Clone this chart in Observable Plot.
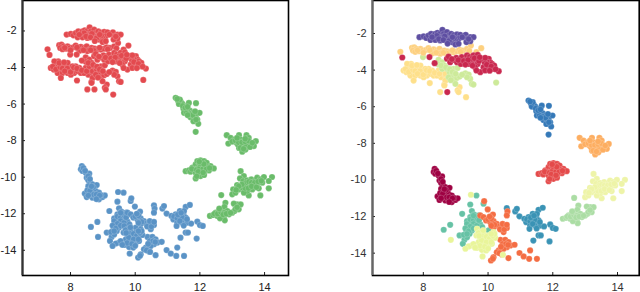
<!DOCTYPE html>
<html><head><meta charset="utf-8">
<script src="https://cdn.jsdelivr.net/npm/d3@7"></script>
<script src="https://cdn.jsdelivr.net/npm/@observablehq/plot@0.6"></script>
<style>
html,body{margin:0;padding:0;background:#fff}
#c{display:flex;width:640px;height:292px}
svg{display:block;overflow:visible}
</style></head><body><div id="c"></div>
<script>
const purple=[[7.88,-2.2],[8.01,-2.16],[8.09,-2.24],[8.16,-2.11],[8.24,-2.02],[8.32,-2.13],[8.22,-2.35],[8.37,-2.02],[8.44,-1.96],[8.52,-2.0],[8.59,-1.8],[8.63,-2.02],[8.73,-1.93],[8.78,-2.11],[8.86,-2.02],[8.94,-2.09],[9.04,-2.05],[9.14,-2.07],[9.31,-2.07],[9.45,-2.2],[9.55,-2.2],[9.35,-2.29],[9.45,-2.42],[9.33,-2.47],[9.09,-2.29],[8.99,-2.38],[8.88,-2.47],[8.99,-2.6],[9.09,-2.56],[8.83,-2.29],[8.71,-2.29],[8.58,-2.2],[8.47,-2.2],[8.37,-2.35],[8.52,-2.38],[8.66,-2.15],[8.95,-2.25],[8.42,-2.12],[8.27,-2.2],[8.48,-2.3],[8.62,-2.35],[8.8,-2.4],[8.9,-2.2],[9.2,-2.2],[9.4,-2.3],[8.75,-2.55]];
const peach=[[7.29,-3.0],[7.65,-2.78],[7.72,-2.75],[7.78,-2.84],[7.68,-2.93],[7.86,-2.97],[7.91,-2.84],[7.99,-2.93],[8.09,-2.89],[8.16,-2.8],[8.24,-2.97],[8.32,-2.87],[8.42,-2.93],[8.5,-2.84],[8.58,-3.02],[8.65,-2.93],[8.75,-2.97],[8.83,-3.02],[8.94,-3.02],[9.04,-2.97],[9.12,-2.89],[9.22,-2.93],[9.35,-2.84],[9.47,-2.66],[9.79,-2.8],[9.64,-3.02],[8.28,-3.08],[8.52,-3.1],[8.72,-3.08],[7.75,-3.0],[8.0,-3.05],[8.2,-2.9],[8.4,-3.05],[8.62,-3.05],[8.9,-2.92],[9.15,-3.0],[9.42,-2.95],[7.82,-2.92]];
const crimson=[[7.35,-3.31],[8.19,-3.29],[8.35,-3.62],[8.74,-5.2],[8.73,-3.38],[8.83,-3.57],[8.78,-3.26],[8.94,-3.44],[9.02,-3.33],[9.12,-3.51],[9.19,-3.29],[9.3,-3.44],[9.35,-3.2],[9.43,-3.29],[9.5,-3.57],[9.55,-3.2],[9.68,-3.17],[9.64,-3.44],[9.68,-3.66],[9.6,-3.84],[9.76,-4.11],[9.86,-3.84],[10.02,-3.38],[10.07,-3.57],[9.97,-3.57],[10.12,-3.66],[10.02,-3.84],[10.19,-3.75],[10.15,-3.93],[10.33,-4.06],[9.89,-3.57],[9.81,-3.38],[9.24,-3.62],[9.4,-3.66],[9.04,-3.57],[9.16,-3.66],[9.91,-4.02],[9.64,-4.02],[9.5,-3.38],[9.91,-3.33],[8.88,-3.4],[9.08,-3.45],[9.25,-3.5],[9.38,-3.45],[9.58,-3.35],[9.72,-3.5],[9.96,-3.7],[10.1,-3.8],[10.23,-3.95],[9.52,-3.75],[9.3,-3.7],[9.74,-3.3],[10.05,-4.03]];
const sand=[[7.62,-3.66],[7.53,-3.84],[7.39,-4.02],[7.48,-4.11],[7.6,-3.99],[7.7,-4.11],[7.6,-4.3],[7.7,-3.84],[7.8,-3.93],[7.86,-4.11],[7.75,-4.3],[7.91,-4.3],[7.96,-4.02],[8.06,-4.11],[8.11,-4.3],[8.01,-4.39],[8.22,-4.2],[8.27,-4.02],[8.16,-3.93],[8.32,-4.3],[7.7,-4.57],[8.2,-4.71],[8.47,-4.02],[8.58,-4.11],[8.55,-4.39],[8.68,-4.3],[8.71,-4.53],[8.65,-4.79],[8.42,-4.3],[7.5,-3.66],[7.91,-3.75],[8.06,-3.93],[8.52,-5.2],[9.12,-4.93],[9.06,-5.11],[9.32,-5.48],[9.09,-5.2],[8.68,-4.2],[8.68,-4.57],[8.65,-4.84],[7.45,-3.95],[7.55,-4.1],[7.68,-3.98],[7.75,-4.05],[7.9,-4.05],[7.82,-4.2],[8.0,-4.25],[8.1,-4.0],[8.2,-4.05],[8.35,-4.15],[8.5,-4.2],[7.65,-3.75],[7.8,-3.72]];
const lime=[[7.99,-3.29],[8.47,-3.44],[8.58,-3.57],[8.47,-3.69],[8.65,-3.75],[8.73,-3.93],[8.58,-3.93],[8.81,-4.11],[8.94,-3.93],[9.06,-3.88],[8.88,-4.3],[8.78,-4.39],[8.94,-4.53],[9.04,-4.42],[8.99,-4.75],[9.3,-4.17],[9.4,-4.24],[9.45,-4.48],[9.5,-4.75],[9.55,-4.79],[10.25,-4.68],[9.12,-4.35],[9.35,-4.39],[8.55,-3.75],[8.7,-3.85],[8.82,-3.95],[8.9,-4.1],[9.0,-4.2],[9.2,-4.25],[8.85,-4.55]];
const blue=[[11.25,-5.66],[11.32,-5.81],[11.41,-5.88],[11.46,-5.99],[11.35,-5.99],[11.56,-6.12],[11.66,-5.94],[11.88,-5.95],[11.61,-6.3],[11.49,-6.25],[11.51,-6.48],[11.69,-6.36],[11.77,-6.48],[11.71,-6.72],[11.87,-6.66],[11.99,-6.48],[11.82,-6.79],[11.92,-6.85],[11.95,-7.08],[11.87,-7.52],[11.8,-6.94],[11.59,-6.48],[11.38,-5.75],[11.3,-5.72],[11.47,-6.1],[11.55,-6.2],[11.62,-6.15],[11.7,-6.55],[11.78,-6.6],[11.85,-6.4],[11.62,-6.6],[11.88,-6.85]];
const apricot=[[12.83,-7.7],[12.95,-7.85],[12.88,-8.16],[13.07,-7.94],[13.21,-7.7],[13.44,-7.7],[13.13,-8.12],[13.26,-7.94],[13.36,-8.03],[13.51,-7.85],[13.73,-8.03],[13.67,-8.3],[13.57,-8.21],[13.21,-8.4],[13.31,-8.61],[13.41,-8.49],[13.46,-8.3],[13.51,-8.12],[13.31,-8.3],[13.41,-8.21],[13.18,-8.22],[13.0,-8.05],[13.1,-8.0],[13.2,-8.1],[13.3,-8.1],[13.4,-8.05],[13.15,-7.85],[13.5,-8.0],[13.25,-8.4],[13.35,-8.45],[13.55,-8.35],[13.4,-7.9],[13.62,-8.12]];
const red=[[11.56,-9.67],[11.66,-9.63],[11.77,-9.48],[11.71,-9.7],[11.87,-9.3],[11.82,-9.57],[11.92,-9.12],[12.02,-9.08],[12.13,-9.12],[11.97,-9.39],[12.07,-9.39],[12.21,-9.21],[12.33,-9.39],[12.43,-9.52],[12.28,-9.63],[12.15,-9.67],[12.02,-9.7],[11.92,-9.85],[11.87,-10.07],[12.02,-9.94],[12.13,-9.88],[11.87,-9.76],[12.23,-9.45],[11.75,-9.55],[11.9,-9.6],[12.0,-9.5],[12.1,-9.55],[12.2,-9.55],[12.0,-9.25],[12.12,-9.28],[12.3,-9.5],[11.95,-9.7],[12.1,-9.75],[11.9,-9.95],[11.98,-9.15]];
const cream=[[13.26,-9.67],[13.36,-9.94],[13.24,-10.07],[13.34,-10.21],[13.46,-10.17],[13.59,-10.12],[13.72,-10.17],[13.77,-10.03],[13.87,-10.12],[13.98,-9.99],[14.23,-9.99],[14.13,-10.21],[14.13,-10.61],[13.87,-11.0],[13.51,-11.0],[13.15,-10.43],[13.03,-10.67],[13.0,-10.94],[13.1,-10.85],[13.2,-10.67],[13.31,-10.58],[13.46,-10.49],[13.57,-10.36],[13.67,-10.49],[13.77,-10.39],[13.93,-10.3],[13.82,-10.61],[13.46,-10.76],[13.36,-10.85],[13.62,-10.67],[13.45,-10.3],[13.52,-10.25],[13.6,-10.3],[13.7,-10.3],[13.8,-10.25],[13.4,-10.6],[13.5,-10.6],[13.6,-10.5],[13.3,-10.4],[13.2,-10.5],[13.12,-10.7],[13.9,-10.2],[13.75,-10.55]];
const mint=[[12.66,-10.98],[12.31,-12.12],[12.41,-12.07],[12.49,-11.94],[12.59,-11.85],[12.54,-12.12],[12.64,-12.03],[12.74,-12.21],[12.77,-12.36],[12.69,-11.76],[12.79,-11.4],[12.76,-11.63],[12.85,-11.85],[12.9,-12.03],[13.0,-11.94],[13.07,-11.85],[13.2,-11.76],[13.15,-11.49],[13.26,-11.49],[13.05,-11.45],[12.62,-12.25],[12.45,-12.0],[12.55,-12.0],[12.65,-11.9],[12.75,-11.95],[12.72,-12.05],[12.82,-12.0],[12.6,-11.72],[12.95,-11.95],[13.1,-11.75],[13.15,-11.65]];
const magenta=[[8.35,-9.39],[8.32,-9.57],[8.37,-9.66],[8.47,-9.76],[8.58,-9.81],[8.5,-10.03],[8.55,-10.17],[8.61,-10.3],[8.68,-10.39],[8.81,-10.43],[8.55,-10.49],[8.63,-10.61],[8.44,-10.9],[8.52,-10.72],[8.5,-11.09],[8.68,-10.85],[8.78,-10.76],[8.88,-10.85],[8.68,-11.12],[8.88,-11.21],[8.78,-11.09],[8.99,-11.09],[9.06,-11.0],[8.94,-10.98],[8.61,-10.94],[8.4,-9.5],[8.55,-9.95],[8.6,-10.1],[8.7,-10.55],[8.6,-10.75],[8.72,-10.95],[8.8,-10.95],[8.55,-11.0],[8.9,-11.0],[8.45,-9.65],[8.65,-10.5],[8.8,-11.2]];
const jade=[[8.63,-12.72],[8.83,-12.45],[9.64,-10.85],[9.45,-11.34],[9.2,-11.85],[9.86,-11.3],[9.5,-11.7],[9.57,-11.89],[9.45,-12.03],[9.6,-12.12],[9.35,-12.25],[9.5,-12.31],[9.68,-12.31],[9.4,-12.67],[9.5,-12.76],[9.33,-12.85],[9.43,-12.94],[9.12,-13.03],[9.27,-13.27],[9.22,-13.49],[9.76,-12.43],[10.02,-12.76],[9.35,-13.13],[9.57,-12.54],[9.72,-11.94],[9.82,-12.58],[9.35,-12.4],[9.45,-12.15],[9.55,-12.2],[9.65,-12.05],[9.55,-12.4],[9.65,-12.5],[9.45,-12.55],[9.3,-12.65],[9.55,-11.95],[9.4,-12.8],[9.55,-12.65],[9.25,-13.0],[9.35,-12.95],[9.72,-12.2]];
const orange=[[9.88,-11.16],[9.99,-11.61],[10.15,-11.89],[10.6,-11.72],[10.58,-11.94],[9.76,-11.94],[9.86,-12.03],[9.94,-12.21],[10.07,-12.31],[10.17,-12.25],[10.27,-12.4],[10.33,-12.54],[10.17,-12.58],[10.43,-12.54],[10.58,-12.62],[10.48,-12.85],[10.38,-13.27],[10.53,-13.27],[10.63,-13.4],[10.69,-13.58],[10.58,-13.67],[10.48,-13.76],[10.33,-13.85],[10.27,-13.95],[10.82,-13.54],[11.3,-13.85],[10.97,-13.99],[11.1,-14.18],[11.27,-14.31],[11.51,-14.31],[10.63,-14.27],[10.17,-14.22],[10.09,-14.4],[10.43,-14.07],[10.0,-12.15],[10.1,-12.1],[10.2,-12.45],[10.1,-12.5],[10.05,-12.0],[10.37,-12.7],[10.5,-12.7],[10.45,-13.5],[10.55,-13.5],[10.4,-13.65],[10.35,-14.0],[10.62,-13.55],[10.15,-14.3],[10.45,-12.4],[10.58,-12.45]];
const pale=[[9.47,-10.81],[8.85,-13.27],[9.66,-12.67],[9.76,-12.85],[9.86,-12.94],[10.02,-13.03],[10.17,-12.85],[9.64,-13.03],[9.76,-13.16],[9.91,-13.27],[10.07,-13.31],[10.22,-13.16],[9.71,-13.4],[9.86,-13.53],[10.02,-13.58],[10.12,-13.49],[9.5,-13.58],[9.4,-13.63],[9.3,-13.76],[9.66,-13.71],[9.81,-13.82],[9.94,-13.85],[9.83,-14.18],[10.46,-14.09],[9.7,-12.9],[9.85,-13.1],[9.95,-13.1],[10.05,-13.2],[10.15,-13.05],[10.2,-12.95],[9.8,-13.3],[9.95,-13.4],[10.1,-13.4],[9.55,-13.5],[9.75,-13.6],[9.9,-13.65],[10.0,-13.75],[9.6,-13.7],[9.85,-12.75],[9.72,-13.05],[10.1,-12.95]];
const teal=[[10.58,-11.54],[10.84,-11.72],[10.89,-11.58],[10.97,-11.99],[11.12,-12.12],[11.18,-12.31],[11.25,-12.03],[11.38,-11.85],[11.56,-11.63],[11.69,-11.52],[11.35,-12.12],[11.49,-12.03],[11.4,-12.31],[11.56,-12.21],[11.3,-12.49],[11.28,-12.67],[11.46,-12.49],[11.61,-12.49],[11.73,-12.54],[11.92,-12.43],[12.0,-12.62],[12.09,-12.67],[11.56,-13.03],[11.63,-13.03],[11.4,-13.31],[11.9,-13.36],[11.51,-11.85],[11.2,-12.15],[11.3,-12.25],[11.45,-12.2],[11.6,-12.3],[11.38,-12.4],[11.5,-12.65],[11.32,-12.05],[11.42,-11.95]];

const clusters=[
  {pts:sand,color:"#fee08b",group:"red"},{pts:lime,color:"#cdea9a",group:"red"},{pts:peach,color:"#fdd07f",group:"red"},
  {pts:purple,color:"#5e4fa2",group:"red"},{pts:crimson,color:"#c9284f",group:"red"},
  {pts:blue,color:"#3579b8",group:"green"},{pts:apricot,color:"#fdae61",group:"green"},{pts:red,color:"#e44a4a",group:"green"},
  {pts:cream,color:"#eef4a8",group:"green"},{pts:mint,color:"#abdda4",group:"green"},
  {pts:magenta,color:"#9e0142",group:"blue"},{pts:jade,color:"#66c2a5",group:"blue"},{pts:teal,color:"#3a93b5",group:"blue"},
  {pts:orange,color:"#f46d43",group:"blue"},{pts:pale,color:"#e9f59a",group:"blue"}
];
const groupColors={red:"#e34a4f",green:"#6abc6a",blue:"#5a93c6"};
const rows=clusters.flatMap(c=>c.pts.map(([x,y])=>({x,y,color:c.color,group:groupColors[c.group]})));
const xTicks=[8,10,12,14], yTicks=[-2,-4,-6,-8,-10,-12,-14];

function panel(o){
  return Plot.plot({
    width:320,height:292,marginLeft:o.ml,marginRight:o.mr,marginTop:0,marginBottom:17,
    style:{fontFamily:"'Liberation Sans',Arial,sans-serif",fontSize:"11px",color:o.text,background:"#fff"},
    x:{domain:o.xd,ticks:xTicks,label:null},
    y:{domain:o.yd,ticks:yTicks,label:null},
    marks:[
      Plot.dot(rows,{x:"x",y:"y",fill:o.fill,r:3.1,stroke:"#fff",strokeWidth:0.3,strokeOpacity:0.6,clip:true}),
      Plot.axisX({ticks:xTicks,tickSize:-3,tickPadding:10.3,stroke:"#222",fill:o.text,tickFormat:d=>String(d),fontSize:11}),
      Plot.axisY({ticks:yTicks,tickSize:-3,tickPadding:9,stroke:"#222",fill:o.text,tickFormat:d=>String(d),fontSize:11}),
      Plot.frame({stroke:"#000",strokeWidth:1.6}),
      Plot.ruleX([o.xd[0]],{stroke:o.spine,strokeWidth:2})
    ]
  });
}
const host=document.getElementById("c");
host.append(panel({ml:22,mr:32,xd:[6.515,14.74],yd:[-15.38,-0.333],fill:"group",text:"#222",spine:"#333"}));
host.append(panel({ml:52,mr:1.3,xd:[6.43,14.67],yd:[-15.22,-0.197],fill:"color",text:"#333",spine:"#666"}));
</script></body></html>
